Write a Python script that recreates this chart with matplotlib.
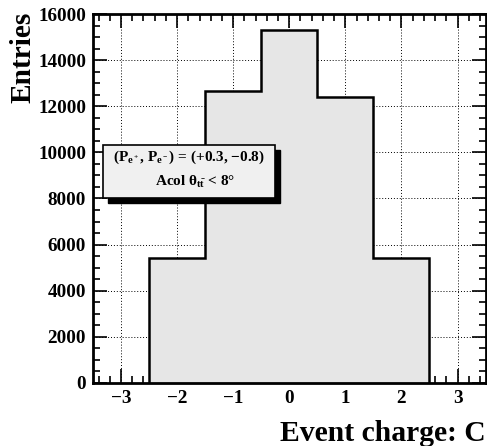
import numpy as np
import matplotlib
matplotlib.use("Agg")
from matplotlib import pyplot as plt
from matplotlib.patches import Rectangle
from matplotlib.ticker import MultipleLocator

# event charge histogram
bin_edges = [-2.5, -1.5, -0.5, 0.5, 1.5, 2.5]
entries = [5420, 12650, 15300, 12380, 5420]

x_ticks = [-3, -2, -1, 0, 1, 2, 3]
y_ticks = [0, 2000, 4000, 6000, 8000, 10000, 12000, 14000, 16000]

plt.rcParams['font.family'] = ['Liberation Serif', 'DejaVu Serif']
plt.rcParams['font.weight'] = 'bold'
plt.rcParams['mathtext.fontset'] = 'custom'
plt.rcParams['mathtext.rm'] = 'Liberation Serif:bold'
plt.rcParams['mathtext.it'] = 'Liberation Serif:bold'
plt.rcParams['mathtext.bf'] = 'Liberation Serif:bold'

fig = plt.figure(figsize=(4.87, 4.46), dpi=100)
ax = fig.add_axes([0.191, 0.1413, 0.806, 0.8273])

ax.stairs(entries, bin_edges, baseline=0, fill=True, color='#e6e6e6', zorder=2)
ax.stairs(entries, bin_edges, baseline=0, fill=False, color='black', lw=1.8, zorder=3)

ax.set_xlim(-3.5, 3.5)
ax.set_ylim(0, 16000)
ax.set_xticks(x_ticks)
ax.set_yticks(y_ticks)
ax.xaxis.set_minor_locator(MultipleLocator(0.2))
ax.yaxis.set_minor_locator(MultipleLocator(500))
ax.tick_params(which='both', direction='in', top=True, right=True, width=1.2, labelsize=13.8, pad=5)
ax.tick_params(which='major', length=10)
ax.tick_params(which='minor', length=5)
for lab in ax.get_xticklabels() + ax.get_yticklabels():
    lab.set_fontweight('bold')
for s in ax.spines.values():
    s.set_linewidth(2)

ax.set_axisbelow(True)
ax.grid(True, which='major', linestyle=(0, (1, 2)), color='black', lw=0.7)

# legend box with shadow
bx, by, bw, bh = 0.0255, 0.501, 0.4385, 0.144
ax.add_patch(Rectangle((bx + 0.013, by - 0.014), bw, bh, transform=ax.transAxes,
                       facecolor='black', edgecolor='black', zorder=5, clip_on=False))
ax.add_patch(Rectangle((bx, by), bw, bh, transform=ax.transAxes,
                       facecolor='#f0f0f0', edgecolor='black', lw=1.2, zorder=6, clip_on=False))
ax.text(0.245, 0.612, r'(P$_{\mathregular{e^+}}$, P$_{\mathregular{e^-}}$) = (+0.3, $-$0.8)',
        transform=ax.transAxes, ha='center', va='center', fontsize=11, fontweight='bold', zorder=7)
ax.text(0.26, 0.545, r'Acol $\theta_{\mathregular{t\bar{t}}}$ < 8$\degree$',
        transform=ax.transAxes, ha='center', va='center', fontsize=11, fontweight='bold', zorder=7)

fig.text(23 / 487, 1 - 12 / 446, 'Entries', rotation=90, ha='center', va='top',
         fontsize=21.2, fontweight='bold')
fig.text(486 / 487, 1 - 441 / 446, 'Event charge: C', ha='right', va='baseline',
         fontsize=21.3, fontweight='bold')

fig.savefig('out.png', dpi=100)
